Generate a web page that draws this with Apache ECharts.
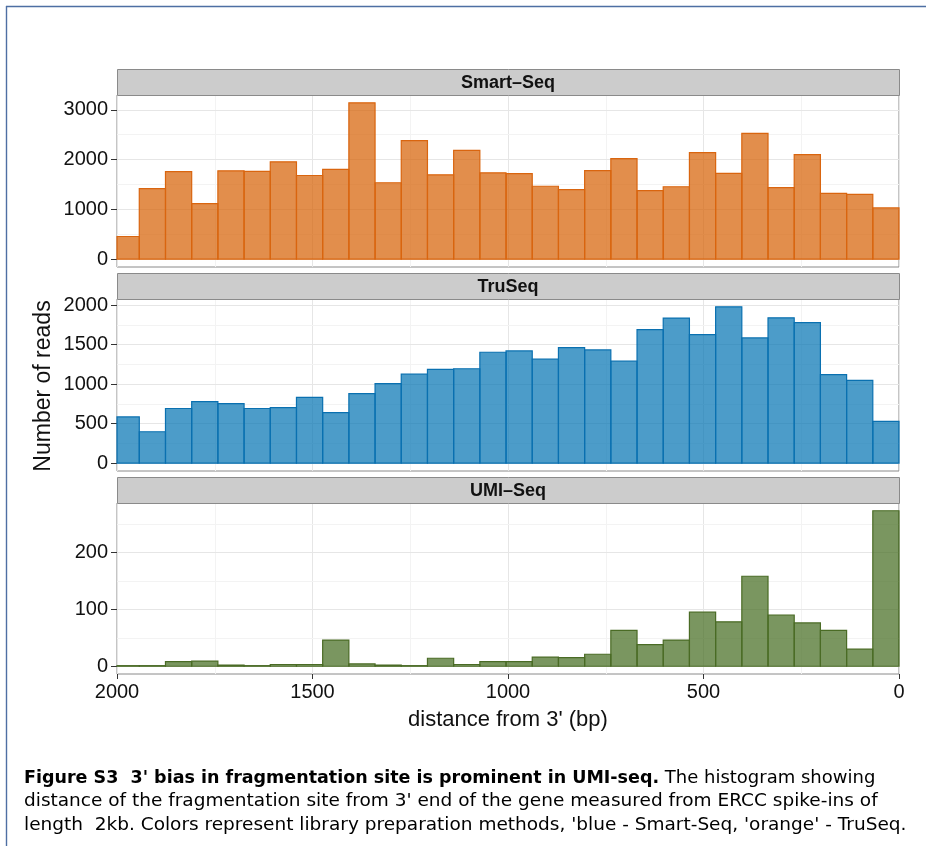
<!DOCTYPE html>
<html>
<head>
<meta charset="utf-8">
<script src="https://cdn.jsdelivr.net/npm/echarts@6/dist/echarts.min.js"></script>
<style>
  html, body { margin: 0; padding: 0; background: #fff; }
  #chart { width: 926px; height: 846px; }
</style>
</head>
<body>
<div id="chart"></div>
<script>
// Histogram bins (bp from the 3' end), left to right on a reversed axis
const binWidth = 67;
const binLow = [1943, 1876, 1809, 1742, 1675, 1608, 1541, 1474, 1407, 1340,
                1273, 1206, 1139, 1072, 1005, 938, 871, 804, 737, 670,
                603, 536, 469, 402, 335, 268, 201, 134, 67, 0];

// Read counts per bin
const smartSeq = [455, 1415, 1760, 1115, 1775, 1765, 1955, 1680, 1805, 3140,
                  1535, 2380, 1695, 2185, 1735, 1720, 1465, 1395, 1780, 2020,
                  1375, 1455, 2140, 1725, 2525, 1435, 2100, 1320, 1300, 1030];
const truSeq = [586, 398, 692, 780, 755, 692, 704, 834, 641, 880,
                1006, 1127, 1186, 1195, 1404, 1421, 1316, 1463, 1434, 1291,
                1690, 1837, 1627, 1979, 1585, 1840, 1778, 1120, 1048, 528];
const umiSeq = [1, 1, 8, 9, 2, 1, 3, 3, 46, 4,
                2, 1, 14, 3, 8, 8, 16, 15, 21, 63,
                38, 46, 95, 78, 158, 90, 76, 63, 30, 273];

const panelNames = ['Smart–Seq', 'TruSeq', 'UMI–Seq'];
const yTicks = [[0, 1000, 2000, 3000], [0, 500, 1000, 1500, 2000], [0, 100, 200]];
const yMinorGrid = [[500, 1500, 2500], [250, 750, 1250, 1750], [50, 150, 250]];
const xTickStep = 500;
const xRange = [0, 2000];

const xTitle = "distance from 3' (bp)";
const yTitle = 'Number of reads';
const captionBold = "Figure S3  3' bias in fragmentation site is prominent in UMI-seq.";
const captionLines = [
  ' The histogram showing',
  "distance of the fragmentation site from 3' end of the gene measured from ERCC spike-ins of",
  "length  2kb. Colors represent library preparation methods, 'blue - Smart-Seq, 'orange' - TruSeq."
];

// ---- layout / style ----
const FONT = "'Liberation Sans', Arial, Helvetica, sans-serif";
const CAP_FONT = "'DejaVu Sans', sans-serif";
const LEFT = 117, RIGHT = 27;
const panelTop = [95, 299, 503];
const panelH = [172, 172, 171];
const stripH = 26;
const palettes = [
  { fill: 'rgba(213,94,0,0.70)', stroke: '#D9650F' },
  { fill: 'rgba(0,114,178,0.70)', stroke: '#0A70B0' },
  { fill: 'rgba(65,105,28,0.70)', stroke: '#4A6B25' }
];
const seriesValues = [smartSeq, truSeq, umiSeq];

const chart = echarts.init(document.getElementById('chart'));

const grids = [], xAxes = [], yAxes = [], series = [], graphics = [];

seriesValues.forEach((vals, i) => {
  const vmax = Math.max(...vals);
  const bottomPanel = i === 2;
  grids.push({
    left: LEFT, right: RIGHT, top: panelTop[i], height: panelH[i],
    show: true, backgroundColor: '#fff', borderColor: '#8A8A8A', borderWidth: 1,
    containLabel: false
  });
  xAxes.push({
    type: 'value', gridIndex: i, min: xRange[0], max: xRange[1], interval: xTickStep,
    inverse: true, position: 'bottom',
    axisLine: { show: false, onZero: false },
    axisTick: { show: bottomPanel, length: 5, lineStyle: { color: '#333' } },
    axisLabel: {
      show: bottomPanel, fontFamily: FONT, fontSize: 20, color: '#111', margin: 8,
      formatter: v => String(v)
    },
    splitLine: { show: true, lineStyle: { color: '#E6E6E6', width: 1 } },
    minorTick: { show: false, splitNumber: 2 },
    minorSplitLine: { show: true, lineStyle: { color: '#F3F3F3', width: 1 } }
  });
  yAxes.push({
    type: 'value', gridIndex: i, position: 'left',
    min: -0.05 * vmax, max: 1.05 * vmax,
    axisLine: { show: false, onZero: false },
    axisTick: { show: true, length: 6, customValues: yTicks[i], lineStyle: { color: '#333' } },
    axisLabel: {
      show: true, customValues: yTicks[i], fontFamily: FONT, fontSize: 20, color: '#111',
      margin: 9, formatter: v => String(v)
    },
    splitLine: { show: false }
  });
  // background grid lines along y, kept beneath the bars
  series.push({
    type: 'line', xAxisIndex: i, yAxisIndex: i, data: [], z: 1, silent: true,
    markLine: {
      z: 1, silent: true, symbol: 'none', animation: false, label: { show: false },
      data: yMinorGrid[i].map(v => ({ yAxis: v, lineStyle: { color: '#F3F3F3', width: 1, type: 'solid' } }))
        .concat(yTicks[i].map(v => ({ yAxis: v, lineStyle: { color: '#E6E6E6', width: 1, type: 'solid' } })))
    }
  });
  // histogram bars
  const pal = palettes[i];
  series.push({
    type: 'custom', xAxisIndex: i, yAxisIndex: i, z: 6,
    data: binLow.map((lo, k) => [lo, lo + binWidth, vals[k]]),
    encode: { x: [0, 1], y: 2 },
    renderItem: (params, api) => {
      const a = api.coord([api.value(0), api.value(2)]);
      const b = api.coord([api.value(1), 0]);
      const shape = echarts.graphic.clipRectByRect({
        x: Math.min(a[0], b[0]), y: Math.min(a[1], b[1]),
        width: Math.abs(b[0] - a[0]), height: Math.abs(b[1] - a[1])
      }, params.coordSys);
      if (!shape) return null;
      return {
        type: 'rect', shape: shape,
        style: { fill: pal.fill, stroke: pal.stroke, lineWidth: 1.2 }
      };
    },
    animation: false
  });
  // facet strip
  const sy = panelTop[i] - stripH;
  graphics.push({
    type: 'rect', z: 10,
    shape: { x: LEFT + 0.5, y: sy + 0.5, width: 926 - LEFT - RIGHT, height: stripH },
    style: { fill: '#CCCCCC', stroke: '#8A8A8A', lineWidth: 1 }
  });
  graphics.push({
    type: 'text', z: 11,
    style: {
      x: LEFT + (926 - LEFT - RIGHT) / 2, y: sy + stripH / 2 + 1,
      text: panelNames[i], fill: '#111', font: `bold 18px ${FONT}`,
      align: 'center', verticalAlign: 'middle'
    }
  });
});

// axis titles
graphics.push({
  type: 'text', z: 11, rotation: Math.PI / 2, x: 43.5, y: 386,
  style: { x: 0, y: 0, text: yTitle, fill: '#111', font: `23px ${FONT}`, align: 'center', verticalAlign: 'middle' }
});
graphics.push({
  type: 'text', z: 11,
  style: { x: 508, y: 720, text: xTitle, fill: '#111', font: `22px ${FONT}`, align: 'center', verticalAlign: 'middle' }
});

// page frame
graphics.push({ type: 'line', z: 12, shape: { x1: 6, y1: 6.5, x2: 926, y2: 6.5 }, style: { stroke: '#4E6FA3', lineWidth: 1.4 } });
graphics.push({ type: 'line', z: 12, shape: { x1: 6.5, y1: 6, x2: 6.5, y2: 846 }, style: { stroke: '#4E6FA3', lineWidth: 1.4 } });

// caption
const capY = [778, 801.5, 825];
graphics.push({
  type: 'text', z: 11,
  style: {
    x: 24, y: capY[0], verticalAlign: 'middle', align: 'left',
    text: '{b|' + captionBold + '}' + captionLines[0],
    font: `18px ${CAP_FONT}`, fill: '#000',
    rich: { b: { font: `bold 17.5px ${CAP_FONT}`, fill: '#000' } }
  }
});
[1, 2].forEach(k => {
  graphics.push({
    type: 'text', z: 11,
    style: {
      x: 24, y: capY[k], verticalAlign: 'middle', align: 'left',
      text: captionLines[k], font: `18.5px ${CAP_FONT}`, fill: '#000'
    }
  });
});

chart.setOption({
  animation: false,
  backgroundColor: '#fff',
  grid: grids,
  xAxis: xAxes,
  yAxis: yAxes,
  series: series,
  graphic: { elements: graphics }
});
</script>
</body>
</html>
